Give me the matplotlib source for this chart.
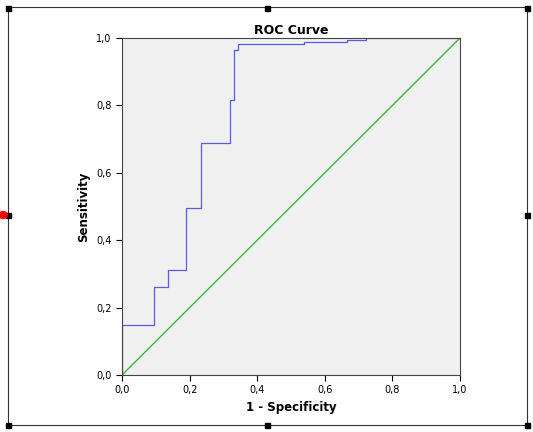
import matplotlib.pyplot as plt
import matplotlib.patches as mpatches

# ROC-Stufen (1 - Spezifität, Sensitivität)
fpr = [0.0, 0.0, 0.096, 0.096, 0.136, 0.136, 0.189, 0.189, 0.234, 0.234,
       0.320, 0.320, 0.330, 0.330, 0.344, 0.344, 0.537, 0.537, 0.666, 0.666,
       0.723, 0.723, 1.0]
tpr = [0.0, 0.149, 0.149, 0.261, 0.261, 0.3125, 0.3125, 0.496, 0.496, 0.687,
       0.687, 0.815, 0.815, 0.965, 0.965, 0.982, 0.982, 0.987, 0.987, 0.994,
       0.994, 1.0, 1.0]
ticks = [0.0, 0.2, 0.4, 0.6, 0.8, 1.0]
tick_labels = ["0,0", "0,2", "0,4", "0,6", "0,8", "1,0"]

fig = plt.figure(figsize=(5.33, 4.32), dpi=100)
ax = fig.add_axes([0.229, 0.132, 0.634, 0.780])
ax.set_facecolor("#f0f0f0")

ax.step(fpr, tpr, where="post", color="#5b5be8", lw=0.9)
ax.plot([0, 1], [0, 1], color="#3cb83c", lw=1.0)

ax.set_xlim(0, 1)
ax.set_ylim(0, 1)
ax.set_xticks(ticks, tick_labels, fontsize=7)
ax.set_yticks(ticks, tick_labels, fontsize=7)
ax.tick_params(length=4, width=0.8)
ax.set_xlabel("1 - Specificity", fontsize=8.5, fontweight="bold")
ax.set_ylabel("Sensitivity", fontsize=8.5, fontweight="bold")
ax.set_title("ROC Curve", fontsize=9, fontweight="bold", pad=3)
for s in ax.spines.values():
    s.set_color("#444444")

# Rahmen mit Griffpunkten
fig.patches.append(mpatches.Rectangle((8/533, 7/432), 519/533, 418/432,
                                      transform=fig.transFigure, fill=False,
                                      ec="#333333", lw=0.8))
for hx, hy in [(8, 8), (267, 8), (527, 8), (8, 215), (527, 215),
               (8, 425), (267, 425), (527, 425)]:
    fig.patches.append(mpatches.Rectangle(((hx - 2.5)/533, (432 - hy - 2.5)/432),
                                          5/533, 5/432, transform=fig.transFigure,
                                          color="black"))
fig.patches.append(mpatches.Circle((3/533, 217/432), 0.008, transform=fig.transFigure,
                                   color="red"))

plt.savefig("out.png", dpi=100)
